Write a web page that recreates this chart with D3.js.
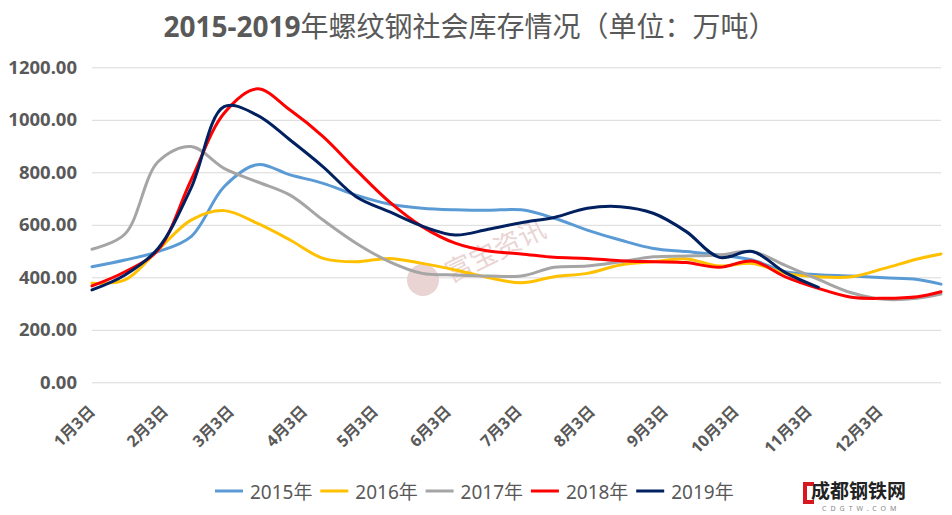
<!DOCTYPE html>
<html>
<head>
<meta charset="utf-8">
<script src="https://cdn.jsdelivr.net/npm/d3@7"></script>
<style>
  body { margin: 0; background: #fff; }
  svg { display: block; font-family: 'Noto Sans', 'Noto Sans CJK SC', sans-serif; }
</style>
</head>
<body>
<div id="chart"></div>
<script>
// sample dates (every two weeks), nominal year
const dates = ["01-03", "01-17", "01-31", "02-14", "02-28", "03-14", "03-28", "04-11", "04-25",
  "05-09", "05-23", "06-06", "06-20", "07-04", "07-18", "08-01", "08-15", "08-29", "09-12",
  "09-26", "10-10", "10-24", "11-07", "11-21", "12-05", "12-19", "12-29"];

const s2015 = [440, 466, 498, 555, 745, 829, 790, 758, 713, 679, 663, 657, 655, 657, 625, 580,
  542, 510, 498, 485, 466, 421, 410, 405, 398, 392, 374];
const s2016 = [377, 390, 504, 618, 654, 606, 542, 472, 459, 472, 453, 428, 399, 379, 402, 415,
  447, 459, 470, 443, 453, 415, 402, 402, 434, 470, 489];
const s2017 = [507, 565, 840, 898, 815, 764, 713, 618, 530, 460, 415, 409, 405, 405, 438, 443,
  459, 478, 481, 485, 498, 445, 392, 341, 316, 320, 336];
const s2018 = [367, 421, 504, 770, 1025, 1118, 1037, 936, 809, 688, 593, 530, 500, 489, 476, 472,
  463, 459, 456, 438, 462, 402, 358, 324, 320, 326, 345];
const s2019 = [352, 409, 510, 740, 1050, 1018, 923, 821, 707, 650, 595, 561, 583, 608, 628, 663,
  669, 644, 574, 476, 498, 418, 362, null, null, null, null];

const seriesNames = ["2015年", "2016年", "2017年", "2018年", "2019年"];
const seriesValues = [s2015, s2016, s2017, s2018, s2019];
const colors = ["#5B9BD5", "#FFC000", "#A5A5A5", "#FF0000", "#002060"];
const yTicks = [0, 200, 400, 600, 800, 1000, 1200];
const months = [1, 2, 3, 4, 5, 6, 7, 8, 9, 10, 11, 12];

const parse = d3.timeParse("%Y-%m-%d");
const xDates = dates.map(d => parse("2019-" + d));

const svg = d3.select("#chart").append("svg")
  .attr("width", 952)
  .attr("height", 515);

const x = d3.scaleTime()
  .domain([parse("2019-01-03"), parse("2019-12-29")])
  .range([92, 941]);

const y = d3.scaleLinear()
  .domain([0, 1200])
  .range([382.3, 67.3]);

// title
const title = svg.append("text")
  .attr("x", 470)
  .attr("y", 37)
  .attr("text-anchor", "middle")
  .attr("fill", "#595959")
  .style("font-size", "28px");
title.append("tspan").attr("font-weight", "bold").text("2015-2019");
title.append("tspan").text("年螺纹钢社会库存情况（单位：万吨）");

// y axis + gridlines
const yAxis = svg.append("g")
  .attr("transform", "translate(92,0)")
  .call(d3.axisLeft(y).tickValues(yTicks).tickSize(-849).tickPadding(15).tickFormat(d3.format(".2f")));
yAxis.select(".domain").remove();
yAxis.selectAll("line").attr("stroke", "#D9D9D9");
yAxis.selectAll("text")
  .attr("fill", "#595959")
  .attr("font-weight", "bold")
  .style("font-size", "18.5px")
  .style("font-family", "'Noto Sans', sans-serif");

// x axis labels
const xAxis = svg.append("g")
  .attr("transform", "translate(0,382)")
  .call(d3.axisBottom(x)
    .tickValues(months.map(m => new Date(2019, m - 1, 3)))
    .tickSize(0)
    .tickFormat(d => (d.getMonth() + 1) + "月3日"));
xAxis.select(".domain").remove();
xAxis.selectAll("text")
  .attr("x", 0).attr("y", 0).attr("dy", 0)
  .attr("text-anchor", "end")
  .attr("transform", "translate(3.5,30.5) rotate(-45)")
  .attr("fill", "#595959")
  .attr("font-weight", "bold")
  .style("font-size", "16px")
  .style("font-family", "'Noto Sans', 'Noto Sans CJK SC', sans-serif");

// watermark
svg.append("circle")
  .attr("cx", 423).attr("cy", 280).attr("r", 16)
  .attr("fill", "#e9d3d3");
svg.append("text")
  .attr("transform", "translate(451,283) rotate(-26)")
  .attr("fill", "#ead4d4")
  .style("font-size", "27px")
  .text("富宝资讯");

// lines
const line = d3.line()
  .defined(d => d.v != null)
  .x(d => x(d.date))
  .y(d => y(d.v))
  .curve(d3.curveCatmullRom.alpha(0.5));

seriesValues.forEach((vals, i) => {
  const pts = vals.map((v, j) => ({ date: xDates[j], v: v }));
  svg.append("path")
    .datum(pts)
    .attr("d", line)
    .attr("fill", "none")
    .attr("stroke", colors[i])
    .attr("stroke-width", 3)
    .attr("stroke-linejoin", "round")
    .attr("stroke-linecap", "round");
});

// legend
const legend = svg.append("g");
seriesNames.forEach((name, i) => {
  const lx = 215 + i * 105.3;
  legend.append("line")
    .attr("x1", lx).attr("x2", lx + 28)
    .attr("y1", 491).attr("y2", 491)
    .attr("stroke", colors[i])
    .attr("stroke-width", 3);
  legend.append("text")
    .attr("x", lx + 35)
    .attr("y", 498.5)
    .attr("fill", "#595959")
    .style("font-size", "19px")
    .text(name);
});

// site logo, bottom right
svg.append("path")
  .attr("d", "M814,484 L805,484 L805,502 L814,502")
  .attr("fill", "none")
  .attr("stroke", "#d7191f")
  .attr("stroke-width", 4);
svg.append("text")
  .attr("x", 811).attr("y", 498)
  .attr("fill", "#222")
  .attr("font-weight", "bold")
  .style("font-size", "19px")
  .text("成都钢铁网");
svg.append("text")
  .attr("x", 822).attr("y", 511)
  .attr("fill", "#888")
  .style("font-size", "7px")
  .style("letter-spacing", "4px")
  .text("CDGTW.COM");
</script>
</body>
</html>
